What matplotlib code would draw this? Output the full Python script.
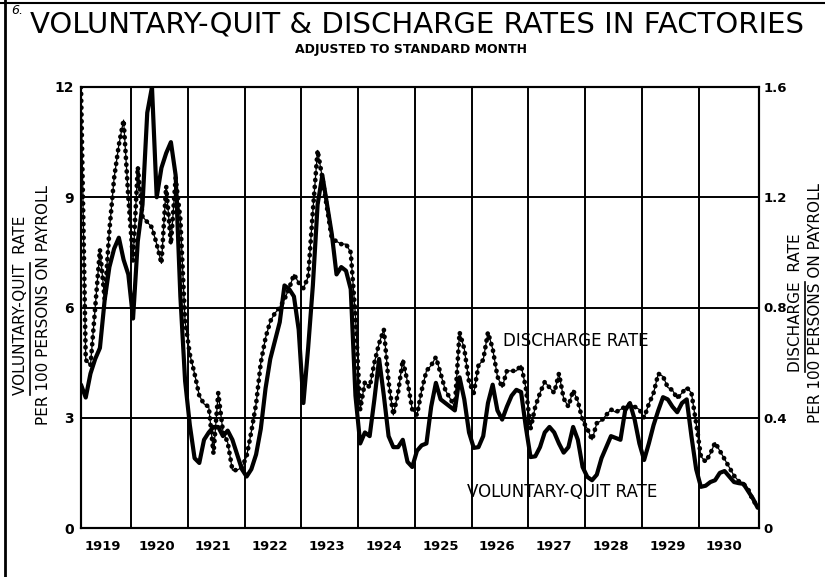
import matplotlib
matplotlib.use('Agg')
import matplotlib.pyplot as plt
from matplotlib.lines import Line2D
import numpy as np

# monthly values, Jan 1919 - Dec 1930 (one row per year)
years = list(range(1919, 1931))

quit_rate = [
    3.9, 3.55, 4.2, 4.6, 4.9, 6.2, 7.1, 7.6, 7.9, 7.3, 6.9, 5.7,       # 1919
    7.8, 8.8, 11.3, 12.0, 9.0, 9.8, 10.2, 10.5, 9.6, 6.3, 4.0, 2.8,    # 1920
    1.9, 1.77, 2.4, 2.6, 2.75, 2.75, 2.5, 2.65, 2.4, 2.0, 1.6, 1.4,    # 1921
    1.6, 2.0, 2.7, 3.8, 4.6, 5.1, 5.6, 6.6, 6.5, 6.3, 5.4, 3.4,        # 1922
    4.9, 6.6, 8.8, 9.6, 8.8, 8.0, 6.9, 7.1, 7.0, 6.5, 3.6, 2.3,        # 1923
    2.6, 2.5, 3.5, 4.6, 3.6, 2.5, 2.2, 2.2, 2.4, 1.8, 1.66, 2.1,       # 1924
    2.25, 2.3, 3.3, 3.95, 3.5, 3.4, 3.3, 3.2, 4.1, 3.5, 2.6, 2.18,     # 1925
    2.2, 2.5, 3.4, 3.9, 3.2, 2.95, 3.3, 3.6, 3.76, 3.7, 2.75, 1.93,    # 1926
    1.95, 2.2, 2.6, 2.75, 2.6, 2.3, 2.05, 2.2, 2.75, 2.4, 1.66, 1.39,  # 1927
    1.3, 1.45, 1.9, 2.2, 2.5, 2.45, 2.4, 3.2, 3.4, 2.95, 2.3, 1.85,    # 1928
    2.3, 2.8, 3.2, 3.56, 3.5, 3.3, 3.15, 3.4, 3.5, 2.5, 1.6, 1.12,     # 1929
    1.15, 1.25, 1.3, 1.5, 1.55, 1.4, 1.25, 1.22, 1.2, 1.0, 0.8, 0.55,  # 1930
]

discharge_rate = [
    1.60, 0.61, 0.59, 0.80, 1.01, 0.83, 1.08, 1.27, 1.39, 1.48, 1.20, 0.97,  # 1919
    1.31, 1.13, 1.11, 1.09, 1.03, 0.96, 1.24, 1.03, 1.27, 1.12, 0.75, 0.63,  # 1920
    0.56, 0.48, 0.45, 0.44, 0.27, 0.49, 0.35, 0.31, 0.21, 0.21, 0.22, 0.26,  # 1921
    0.35, 0.45, 0.60, 0.69, 0.75, 0.78, 0.80, 0.83, 0.87, 0.92, 0.89, 0.87,  # 1922
    0.91, 1.15, 1.37, 1.27, 1.16, 1.05, 1.04, 1.03, 1.03, 1.00, 0.77, 0.43,  # 1923
    0.53, 0.51, 0.60, 0.67, 0.72, 0.53, 0.41, 0.49, 0.61, 0.53, 0.43, 0.41,  # 1924
    0.50, 0.57, 0.59, 0.62, 0.56, 0.50, 0.47, 0.44, 0.71, 0.65, 0.53, 0.49,  # 1925
    0.59, 0.61, 0.71, 0.65, 0.55, 0.51, 0.57, 0.57, 0.57, 0.59, 0.51, 0.36,  # 1926
    0.44, 0.49, 0.53, 0.51, 0.49, 0.56, 0.47, 0.44, 0.50, 0.46, 0.39, 0.36,  # 1927
    0.32, 0.38, 0.39, 0.41, 0.43, 0.42, 0.43, 0.44, 0.45, 0.44, 0.43, 0.40,  # 1928
    0.45, 0.49, 0.56, 0.55, 0.51, 0.50, 0.47, 0.49, 0.51, 0.49, 0.38, 0.26,  # 1929
    0.24, 0.27, 0.31, 0.28, 0.25, 0.22, 0.19, 0.17, 0.16, 0.14, 0.10, 0.08,  # 1930
]

quit_ticks = [0, 3, 6, 9, 12]
discharge_ticks = [0, 0.4, 0.8, 1.2, 1.6]
discharge_labels = ["0", "0.4", "0.8", "1.2", "1.6"]

W, H = 825, 577
fig = plt.figure(figsize=(W / 100, H / 100), dpi=100)
fig.patch.set_facecolor('white')

x0, x1 = 1919.12, 1931.06
ax = fig.add_axes([81 / W, 1 - 528 / H, (759 - 81) / W, (528 - 87) / H])
ax.set_xlim(x0, x1)
ax.set_ylim(0, 12)
ax2 = ax.twinx()
ax2.set_ylim(0, 1.6)

months = x0 + np.arange(len(quit_rate)) / 12

# grid
for y in quit_ticks[1:-1]:
    ax.axhline(y, color='black', lw=1.4, zorder=1)
for yr in years[1:]:
    ax.axvline(yr, color='black', lw=1.4, zorder=1)

# series
ax.plot(months, quit_rate, color='black', lw=3.0, solid_joinstyle='round',
        solid_capstyle='round', zorder=4)
ax2.plot(months, discharge_rate, color='black', lw=0.9, zorder=3)
ax2.plot(months, discharge_rate, color='black', lw=3.4, linestyle=(0, (0.05, 1.4)),
         dash_capstyle='round', zorder=3)

for spine in list(ax.spines.values()) + list(ax2.spines.values()):
    spine.set_linewidth(1.5)
    spine.set_color('black')

# ticks
ax.set_yticks(quit_ticks)
ax.set_yticklabels([str(v) for v in quit_ticks], fontsize=10, fontweight='bold')
ax2.set_yticks(discharge_ticks)
ax2.set_yticklabels(discharge_labels, fontsize=9.5, fontweight='bold')
xpos = [(max(yr, x0) + min(yr + 1, x1)) / 2 - 0.05 for yr in years]
ax.set_xticks(xpos)
ax.set_xticklabels([str(yr) for yr in years], fontsize=9.5, fontweight='bold')
ax.tick_params(axis='both', length=0, pad=5)
ax.tick_params(axis='x', pad=9)
ax2.tick_params(axis='y', length=0, pad=3)

# series labels
ax.text(1926.55, 5.1, "DISCHARGE RATE", fontsize=12, ha='left', va='center')
ax.text(1925.92, 0.98, "VOLUNTARY-QUIT RATE", fontsize=12, ha='left', va='center')

# titles
fig.text(11 / W, 1 - 11 / H, "6.", fontsize=9, ha='left', va='center', style='italic')
fig.text(417 / W, 1 - 25 / H, "VOLUNTARY-QUIT & DISCHARGE RATES IN FACTORIES",
         fontsize=21, ha='center', va='center')
fig.text(411 / W, 1 - 50 / H, "ADJUSTED TO STANDARD MONTH", fontsize=9,
         fontweight='bold', ha='center', va='center')

# axis titles (two lines, first part underlined)
lab_size = 11
left1 = fig.text(21 / W, 1 - 305 / H, "VOLUNTARY-QUIT  RATE", rotation=90,
                 fontsize=lab_size, ha='center', va='center')
fig.text(44 / W, 1 - 305 / H, "PER 100 PERSONS ON PAYROLL", rotation=90,
         fontsize=lab_size, ha='center', va='center')
right1 = fig.text(796 / W, 1 - 303 / H, "DISCHARGE  RATE", rotation=90,
                  fontsize=lab_size, ha='center', va='center')
fig.text(815 / W, 1 - 303 / H, "PER 100 PERSONS ON PAYROLL", rotation=90,
         fontsize=lab_size, ha='center', va='center')

renderer = fig.canvas.get_renderer()
for txt, part in [(left1, "VOLUNTARY-QUIT"), (right1, "DISCHARGE")]:
    bb = txt.get_window_extent(renderer)
    tmp = fig.text(0, 0, part, rotation=90, fontsize=lab_size)
    pb = tmp.get_window_extent(renderer)
    tmp.remove()
    xl = (bb.x1 + 1.5) / W
    fig.add_artist(Line2D([xl, xl], [bb.y0 / H, (bb.y0 + pb.height) / H],
                          transform=fig.transFigure, color='black', lw=1.2))

# page border from the scan
fig.add_artist(Line2D([5 / W, 5 / W], [0, 1], transform=fig.transFigure,
                      color='black', lw=2))
fig.add_artist(Line2D([0, 1], [1 - 3 / H, 1 - 3 / H], transform=fig.transFigure,
                      color='black', lw=1.5))

fig.savefig('out.png', dpi=100, facecolor='white')
